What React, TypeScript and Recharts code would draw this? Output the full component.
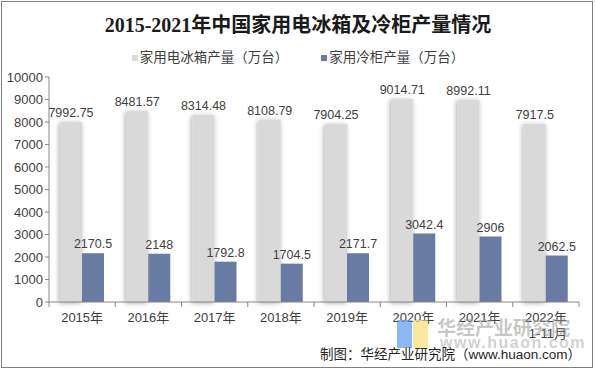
import { BarChart, Bar, XAxis, YAxis, LabelList } from 'recharts';

const categories = ['2015年', '2016年', '2017年', '2018年', '2019年', '2020年', '2021年', '2022年'];
const subLabels = ['', '', '', '', '', '', '', '1-11月'];
const fridgeOutput = [7992.75, 8481.57, 8314.48, 8108.79, 7904.25, 9014.71, 8992.11, 7917.5];
const freezerOutput = [2170.5, 2148, 1792.8, 1704.5, 2171.7, 3042.4, 2906, 2062.5];
const yTicks = [0, 1000, 2000, 3000, 4000, 5000, 6000, 7000, 8000, 9000, 10000];

const seriesNames = ['家用电冰箱产量（万台）', '家用冷柜产量（万台）'];
const GRAY = '#d9d9d9';
const BLUE = '#687ba3';
const AXIS = '#868686';
const TEXT = '#404040';
const FONT = '"Liberation Sans", Arial, "Noto Sans CJK SC", sans-serif';

const data = categories.map((name, i) => ({
  name,
  sub: subLabels[i],
  fridge: fridgeOutput[i],
  freezer: freezerOutput[i],
}));

const CategoryTick = (props: any) => {
  const { x, y, payload, index } = props;
  const half = payload.offset || 33.1;
  const sub = subLabels[index];
  return (
    <g>
      <line x1={x - half} x2={x - half} y1={y} y2={y + 5} stroke={AXIS} />
      {index === categories.length - 1 && (
        <line x1={x + half} x2={x + half} y1={y} y2={y + 5} stroke={AXIS} />
      )}
      <text x={x} y={y + 20} textAnchor="middle" fontSize={13} fill={TEXT} fontFamily={FONT}>
        {payload.value}
      </text>
      {sub && (
        <text x={x + 2} y={y + 36} textAnchor="middle" fontSize={13} fill={TEXT} fontFamily={FONT}>
          {sub}
        </text>
      )}
    </g>
  );
};

const ShadowBar = (props: any) => {
  const { x, y, width, height, fill } = props;
  return <rect x={x} y={y} width={width} height={height} fill={fill} filter="url(#barShadow)" />;
};

export default function App() {
  return (
    <div style={{ position: 'absolute', left: 0, top: 0, width: 596, height: 373, background: '#fff', fontFamily: FONT, overflow: 'hidden' }}>
      <div style={{ position: 'absolute', left: 1, top: 1, width: 592, height: 367, border: '1px solid #7f7f7f', boxSizing: 'border-box' }} />

      <div style={{ position: 'absolute', left: 0, top: 14, width: 596, textAlign: 'center', fontSize: 20, lineHeight: '22px', fontWeight: 'bold', color: '#1a1a1a', fontFamily: '"Liberation Serif", "Noto Sans CJK SC", serif' }}>
        2015-2021年中国家用电冰箱及冷柜产量情况
      </div>

      {/* legend */}
      <div style={{ position: 'absolute', left: 0, top: 49, width: 596, display: 'flex', justifyContent: 'center', gap: 33, fontSize: 13.5, lineHeight: '18px', color: TEXT }}>
        {seriesNames.map((s, i) => (
          <span key={s} style={{ display: 'flex', alignItems: 'center', gap: 2 }}>
            <span style={{ width: 6, height: 6, background: i === 0 ? GRAY : BLUE, display: 'inline-block' }} />
            {s}
          </span>
        ))}
      </div>

      <BarChart width={596} height={373} data={data} margin={{ top: 77, right: 17, left: 9, bottom: 31 }} barCategoryGap="16.6%" barGap={0}>
        <defs>
          <filter id="barShadow" x="-60%" y="-10%" width="220%" height="130%">
            <feDropShadow dx={-1} dy={1} stdDeviation={2.5} floodColor="#000" floodOpacity={0.35} />
          </filter>
        </defs>
        <XAxis dataKey="name" height={40} axisLine={{ stroke: AXIS }} tickLine={false} tickSize={0} tickMargin={0} tick={<CategoryTick />} interval={0} />
        <YAxis width={40} domain={[0, 10000]} ticks={yTicks} interval={0} tickSize={4} axisLine={{ stroke: AXIS }} tickLine={{ stroke: AXIS }} tick={{ fontSize: 13, fill: TEXT, fontFamily: FONT }} />
        <Bar dataKey="fridge" name={seriesNames[0]} fill={GRAY} shape={<ShadowBar />} isAnimationActive={false}>
          <LabelList dataKey="fridge" position="top" fontSize={12.5} fill={TEXT} fontFamily={FONT} />
        </Bar>
        <Bar dataKey="freezer" name={seriesNames[1]} fill={BLUE} isAnimationActive={false}>
          <LabelList dataKey="freezer" position="top" fontSize={12.5} fill={TEXT} fontFamily={FONT} />
        </Bar>
      </BarChart>

      {/* watermark */}
      <div style={{ position: 'absolute', left: 397, top: 320, width: 15, height: 28, background: '#4d94f0', opacity: 0.65 }} />
      <div style={{ position: 'absolute', left: 413, top: 320, width: 15, height: 28, background: '#f7dc6f', opacity: 0.65 }} />
      <div style={{ position: 'absolute', left: 437, top: 316, fontSize: 19, lineHeight: '22px', fontWeight: 'bold', color: 'rgba(150,150,150,0.55)', fontFamily: '"Noto Sans CJK SC", sans-serif' }}>
        华经产业研究院
      </div>
      <div style={{ position: 'absolute', left: 440, top: 334, fontSize: 16, lineHeight: '18px', fontWeight: 'bold', letterSpacing: 1.5, color: 'rgba(150,150,150,0.45)' }}>
        www.huaon.com
      </div>

      <div style={{ position: 'absolute', right: 15, top: 346, fontSize: 13.5, lineHeight: '18px', color: '#262626', whiteSpace: 'nowrap' }}>
        制图：华经产业研究院（www.huaon.com）
      </div>
    </div>
  );
}
